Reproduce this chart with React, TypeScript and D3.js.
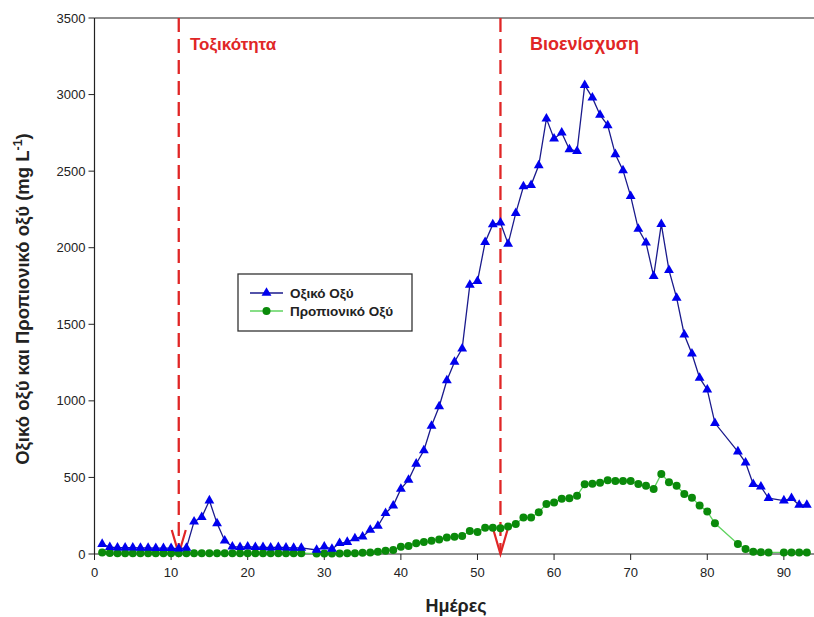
import React from 'react';
import * as d3 from 'd3';

// sampling days (days 28, 82, 83 and 89 have no measurement)
const days = [
  1, 2, 3, 4, 5, 6, 7, 8, 9, 10, 11, 12, 13, 14, 15, 16, 17, 18, 19, 20, 21, 22, 23, 24, 25, 26, 27,
  29, 30, 31, 32, 33, 34, 35, 36, 37, 38, 39, 40, 41, 42, 43, 44, 45, 46, 47, 48,
  49, 50, 51, 52, 53, 54, 55, 56, 57, 58, 59, 60, 61, 62, 63, 64, 65, 66, 67, 68,
  69, 70, 71, 72, 73, 74, 75, 76, 77, 78, 79, 80, 81,
  84, 85, 86, 87, 88,
  90, 91, 92, 93,
];

const acetic = [
  65, 45, 42, 42, 42, 40, 40, 38, 38, 38, 35, 40, 211, 240, 349, 200, 87, 48, 45, 48, 45, 45, 42, 45, 42, 40, 40,
  26, 48, 33, 70, 78, 102, 113, 157, 183, 266, 316, 425, 484, 589, 676, 837, 963, 1133, 1254, 1341,
  1757, 1781, 2036, 2152, 2163, 2025, 2226, 2400, 2409, 2538, 2843, 2712, 2751, 2642, 2631, 3061, 2980, 2867, 2799, 2610,
  2505, 2337, 2122, 2033, 1814, 2154, 1853, 1672, 1432, 1308, 1150, 1073, 855,
  669, 597, 456, 440, 364,
  349, 364, 320, 320,
];

const propionic = [
  10, 6, 5, 5, 5, 5, 5, 5, 5, 5, 5, 5, 5, 5, 5, 5, 5, 5, 5, 5, 5, 5, 5, 5, 5, 5, 5,
  3, 3, 3, 3, 5, 5, 8, 10, 15, 22, 26, 48, 52, 70, 78, 87, 95, 108, 113, 118,
  150, 144, 172, 172, 168, 179, 196, 238, 238, 272, 327, 336, 360, 364, 381, 456, 458, 466, 482, 476,
  476, 476, 457, 445, 425, 523, 469, 445, 392, 368, 316, 277, 201,
  65, 33, 15, 12, 10,
  10, 10, 10, 10,
];

const seriesNames = ['Οξικό Οξύ', 'Προπιονικό Οξύ'];
const events = [
  { day: 11, label: 'Τοξικότητα', textX: 190, size: 17 },
  { day: 53, label: 'Βιοενίσχυση', textX: 530, size: 18 },
];
const xTicks = [0, 10, 20, 30, 40, 50, 60, 70, 80, 90];
const yTicks = [0, 500, 1000, 1500, 2000, 2500, 3000, 3500];

const W = 814;
const H = 617;
const font = '"Liberation Sans", Arial, sans-serif';

export default function App() {
  const x = d3.scaleLinear().domain([0, 94]).range([94.5, 814.5]);
  const y = d3.scaleLinear().domain([0, 3500]).range([554, 18]);

  const line = d3
    .line<number>()
    .x((d, i) => x(days[i]))
    .y((d) => y(d));

  const tri = d3.symbol().type(d3.symbolTriangle).size(42)();
  const red = '#e02626';

  return (
    <svg
      width={W}
      height={H}
      style={{ position: 'absolute', left: 0, top: 0, background: '#fff' }}
      fontFamily={font}
    >
      <rect width={W} height={H} fill="#fff" />

      {/* frame */}
      <line x1={x(0)} x2={W} y1={y(3500)} y2={y(3500)} stroke="#222" strokeWidth={1.2} />
      <line x1={x(0)} x2={x(0)} y1={y(3500)} y2={y(0)} stroke="#222" strokeWidth={1.2} />
      <line x1={x(0)} x2={W} y1={y(0)} y2={y(0)} stroke="#222" strokeWidth={1.2} />

      {yTicks.map((t) => (
        <g key={'y' + t}>
          <line x1={x(0) - 6} x2={x(0)} y1={y(t)} y2={y(t)} stroke="#222" />
          <text x={x(0) - 9} y={y(t)} dy="0.35em" textAnchor="end" fontSize={13} fill="#222">
            {t}
          </text>
        </g>
      ))}
      {xTicks.map((t) => (
        <g key={'x' + t}>
          <line x1={x(t)} x2={x(t)} y1={y(0)} y2={y(0) + 6} stroke="#222" />
          <text x={x(t)} y={y(0) + 23} textAnchor="middle" fontSize={13} fill="#222">
            {t}
          </text>
        </g>
      ))}

      {/* axis titles */}
      <text x={456} y={612} textAnchor="middle" fontSize={18} fontWeight="bold" fill="#222">
        Ημέρες
      </text>
      <text
        transform="translate(29,299) rotate(-90)"
        textAnchor="middle"
        fontSize={18.5}
        fontWeight="bold"
        fill="#222"
      >
        Οξικό οξύ και Προπιονικό οξύ (mg L
        <tspan dy={-7} fontSize={12.5}>-1</tspan>
        <tspan dy={7}>)</tspan>
      </text>

      {/* event markers */}
      {events.map((e) => (
        <g key={e.label}>
          <line
            x1={x(e.day)}
            x2={x(e.day)}
            y1={y(3500)}
            y2={y(0)}
            stroke={red}
            strokeWidth={2.3}
            strokeDasharray="14,7"
          />
          <polyline
            points={`${x(e.day) - 7},${y(0) - 24} ${x(e.day)},${y(0)} ${x(e.day) + 7},${y(0) - 24}`}
            fill="none"
            stroke={red}
            strokeWidth={2.2}
          />
          <text x={e.textX} y={50} fontSize={e.size} fontWeight="bold" fill={red}>
            {e.label}
          </text>
        </g>
      ))}

      {/* propionic acid */}
      <path d={line(propionic) || ''} fill="none" stroke="#5fd35f" strokeWidth={1.3} />
      {propionic.map((v, i) => (
        <circle key={'p' + i} cx={x(days[i])} cy={y(v)} r={4} fill="#0a8a0a" />
      ))}

      {/* acetic acid */}
      <path d={line(acetic) || ''} fill="none" stroke="#1a1a8c" strokeWidth={1.3} />
      {acetic.map((v, i) => (
        <path key={'a' + i} d={tri || ''} transform={`translate(${x(days[i])},${y(v)})`} fill="#0000ee" />
      ))}

      {/* legend */}
      <g transform="translate(238,274)">
        <rect width={174} height={57} fill="#fff" stroke="#333" strokeWidth={1.3} />
        <line x1={12} x2={45} y1={19} y2={19} stroke="#1a1a8c" strokeWidth={1.3} />
        <path d={tri || ''} transform="translate(28.5,19)" fill="#0000ee" />
        <text x={52} y={19} dy="0.35em" fontSize={13.5} fontWeight="bold" fill="#222">
          {seriesNames[0]}
        </text>
        <line x1={12} x2={45} y1={37} y2={37} stroke="#5fd35f" strokeWidth={1.3} />
        <circle cx={28.5} cy={37} r={4} fill="#0a8a0a" />
        <text x={52} y={37} dy="0.35em" fontSize={13.5} fontWeight="bold" fill="#222">
          {seriesNames[1]}
        </text>
      </g>
    </svg>
  );
}
